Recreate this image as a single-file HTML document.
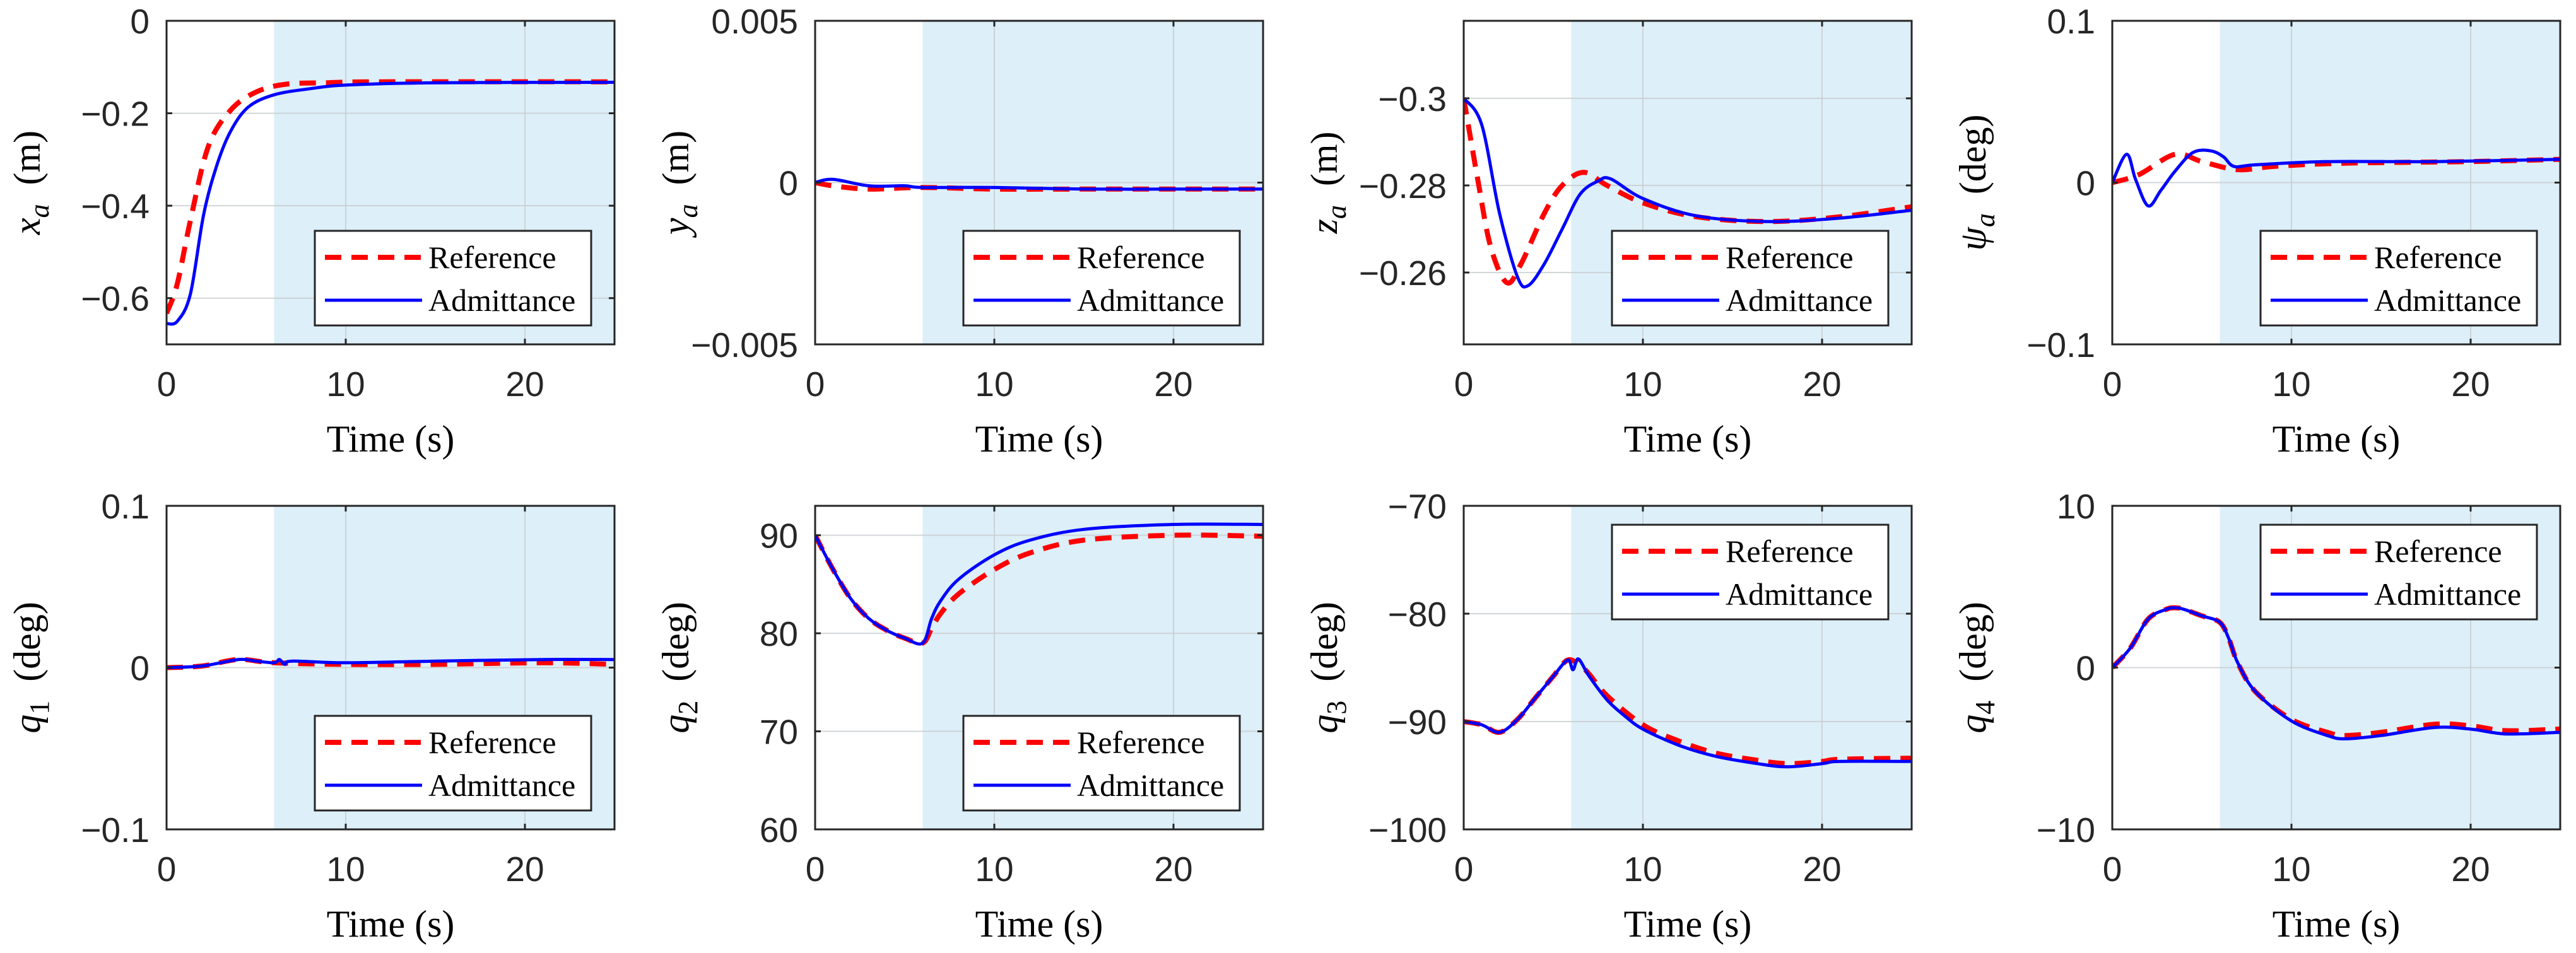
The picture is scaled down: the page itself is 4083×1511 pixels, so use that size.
<!DOCTYPE html>
<html><head><meta charset="utf-8"><style>
html,body{margin:0;padding:0;background:#fff;}
svg{display:block;}
.tick{font-family:"Liberation Sans",Arial,sans-serif;font-size:55px;fill:#262626;}
.lab{font-family:"Liberation Serif","Times New Roman",serif;font-size:60px;fill:#000;}
.leg{font-family:"Liberation Serif","Times New Roman",serif;font-size:50px;fill:#000;}
</style></head><body>
<svg id="fig" width="4083" height="1511" viewBox="0 0 4083 1511" xmlns="http://www.w3.org/2000/svg"></svg>
<script>
// ---- data ----
const xTicks = [0, 10, 20];
const xLim = [0, 25];
const shadeStart = 6;
const legendLabels = ["Reference", "Admittance"];

const xaRefT = [0, 0.59, 1.33, 2.32, 3.56, 5.0, 6.7, 9, 12, 25];
const xaRefV = [-0.633, -0.570, -0.432, -0.273, -0.194, -0.154, -0.137, -0.134, -0.132, -0.132];
const xaAdmT = [0, 0.6, 1.33, 2.07, 2.81, 3.56, 4.55, 6.0, 8.0, 10, 15, 25];
const xaAdmV = [-0.655, -0.650, -0.591, -0.419, -0.312, -0.240, -0.187, -0.160, -0.147, -0.139, -0.134, -0.133];

const yaRefT = [0, 1, 3, 6, 10, 15, 20, 25];
const yaRefV = [0, -0.0001, -0.0002, -0.00015, -0.0002, -0.0002, -0.0002, -0.0002];
const yaAdmT = [0, 1, 3, 5, 6, 10, 15, 20, 25];
const yaAdmV = [0, 0.0001, -0.0001, -0.0001, -0.00015, -0.00015, -0.0002, -0.0002, -0.0002];

const zaRefT = [0, 0.8, 1.5, 2.4, 3.2, 4.5, 5.5, 6.7, 8, 10, 13, 17, 21, 25];
const zaRefV = [-0.300, -0.281, -0.266, -0.2577, -0.262, -0.2736, -0.280, -0.283, -0.280, -0.276, -0.2728, -0.2717, -0.2728, -0.2751];
const zaAdmT = [0, 1, 2, 3, 3.6, 4.5, 5.5, 6.5, 7.5, 8.2, 10, 13, 17, 21, 25];
const zaAdmV = [-0.300, -0.294, -0.2736, -0.259, -0.257, -0.262, -0.270, -0.278, -0.281, -0.2815, -0.277, -0.273, -0.2717, -0.2725, -0.2743];

const psiRefT = [0, 1.5, 3.5, 5, 7, 9, 13, 20, 25];
const psiRefV = [0, 0.005, 0.0175, 0.013, 0.008, 0.010, 0.012, 0.013, 0.0144];
const psiAdmT = [0, 0.8, 1.3, 2, 2.7, 3.5, 4.5, 5.5, 6.2, 6.8, 8, 12, 18, 25];
const psiAdmV = [0, 0.0175, 0.002, -0.0144, -0.005, 0.007, 0.0186, 0.0196, 0.016, 0.010, 0.011, 0.013, 0.013, 0.0144];

const q1RefT = [0, 2, 4, 6, 10, 15, 21, 25];
const q1RefV = [0, 0.001, 0.005, 0.003, 0.002, 0.002, 0.003, 0.002];
const q1AdmT = [0, 2, 4, 5, 6, 6.3, 6.6, 7, 10, 15, 21, 25];
const q1AdmV = [0, 0.001, 0.005, 0.004, 0.003, 0.005, 0.002, 0.004, 0.003, 0.004, 0.005, 0.005];

const q2RefT = [0, 1, 2, 3, 4, 5, 6, 6.5, 7, 8, 10, 12, 15, 20, 25];
const q2RefV = [90, 86.5, 83.5, 81.5, 80.3, 79.5, 79, 80.5, 82, 84, 86.5, 88.2, 89.5, 90, 89.9];
const q2AdmT = [0, 1, 2, 3, 4, 5, 6, 6.5, 7, 8, 10, 12, 15, 20, 25];
const q2AdmV = [90, 86.5, 83.5, 81.5, 80.3, 79.5, 79, 81.5, 83.3, 85.5, 88, 89.5, 90.6, 91.1, 91.1];

const q3RefT = [0, 1, 2, 3, 4, 5, 5.8, 6.5, 7, 8, 10, 12, 14, 16, 18, 20, 21, 25];
const q3RefV = [-90, -90.3, -91, -89.8, -87.8, -85.8, -84.3, -84.8, -85.6, -87.6, -90.3, -91.8, -92.9, -93.5, -93.9, -93.7, -93.5, -93.4];
const q3AdmT = [0, 1, 2, 3, 4, 5, 5.8, 6.1, 6.4, 7, 8, 9, 10, 12, 14, 16, 18, 20, 21, 25];
const q3AdmV = [-90, -90.3, -91, -89.8, -87.8, -85.8, -84.3, -85.2, -84.2, -85.8, -88, -89.5, -90.7, -92.2, -93.2, -93.8, -94.2, -93.9, -93.7, -93.7];

const q4RefT = [0, 1, 2, 3, 3.5, 4, 5, 6, 6.5, 7, 8, 10, 12, 13, 15, 18, 20, 22, 25];
const q4RefV = [0, 1.2, 3, 3.6, 3.7, 3.6, 3.2, 2.8, 1.8, 0.3, -1.5, -3.2, -4.0, -4.2, -4.0, -3.5, -3.6, -3.9, -3.8];
const q4AdmT = [0, 1, 2, 3, 3.5, 4, 5, 6, 6.5, 7, 8, 10, 12, 13, 15, 18, 20, 22, 25];
const q4AdmV = [0, 1.2, 3, 3.6, 3.7, 3.6, 3.2, 2.8, 1.8, 0.3, -1.5, -3.3, -4.2, -4.4, -4.2, -3.7, -3.8, -4.1, -4.0];

const panels = [
 {name:"xa", sym:"x", sub:"a", unit:"(m)", yLim:[-0.7,0], yTicks:[0,-0.2,-0.4,-0.6], tickLabels:["0","\u22120.2","\u22120.4","\u22120.6"], rev:false, leg:"bottom", ref:[xaRefT,xaRefV], adm:[xaAdmT,xaAdmV]},
 {name:"ya", sym:"y", sub:"a", unit:"(m)", yLim:[-0.005,0.005], yTicks:[0.005,0,-0.005], tickLabels:["0.005","0","\u22120.005"], rev:false, leg:"bottom", ref:[yaRefT,yaRefV], adm:[yaAdmT,yaAdmV]},
 {name:"za", sym:"z", sub:"a", unit:"(m)", yLim:[-0.3178,-0.2435], yTicks:[-0.3,-0.28,-0.26], tickLabels:["\u22120.3","\u22120.28","\u22120.26"], rev:true, leg:"bottom", ref:[zaRefT,zaRefV], adm:[zaAdmT,zaAdmV]},
 {name:"psi", sym:"\u03c8", sub:"a", unit:"(deg)", yLim:[-0.1,0.1], yTicks:[0.1,0,-0.1], tickLabels:["0.1","0","\u22120.1"], rev:false, leg:"bottom", ref:[psiRefT,psiRefV], adm:[psiAdmT,psiAdmV]},
 {name:"q1", sym:"q", sub:"1", unit:"(deg)", yLim:[-0.1,0.1], yTicks:[0.1,0,-0.1], tickLabels:["0.1","0","\u22120.1"], rev:false, leg:"bottom", ref:[q1RefT,q1RefV], adm:[q1AdmT,q1AdmV]},
 {name:"q2", sym:"q", sub:"2", unit:"(deg)", yLim:[60,93], yTicks:[90,80,70,60], tickLabels:["90","80","70","60"], rev:false, leg:"bottom", ref:[q2RefT,q2RefV], adm:[q2AdmT,q2AdmV]},
 {name:"q3", sym:"q", sub:"3", unit:"(deg)", yLim:[-100,-70], yTicks:[-70,-80,-90,-100], tickLabels:["\u221270","\u221280","\u221290","\u2212100"], rev:false, leg:"top", ref:[q3RefT,q3RefV], adm:[q3AdmT,q3AdmV]},
 {name:"q4", sym:"q", sub:"4", unit:"(deg)", yLim:[-10,10], yTicks:[10,0,-10], tickLabels:["10","0","\u221210"], rev:false, leg:"top", ref:[q4RefT,q4RefV], adm:[q4AdmT,q4AdmV]}
];

// ---- drawing ----
const NS = "http://www.w3.org/2000/svg";
const svg = document.getElementById("fig");
function mk(tag, attrs, parent){
  const e = document.createElementNS(NS, tag);
  for (const k in attrs) e.setAttribute(k, attrs[k]);
  (parent||svg).appendChild(e);
  return e;
}
function smoothPath(pts){
  let d = "M" + pts[0][0].toFixed(1) + "," + pts[0][1].toFixed(1);
  for (let i=0;i<pts.length-1;i++){
    const p0 = pts[i-1]||pts[i], p1=pts[i], p2=pts[i+1], p3=pts[i+2]||pts[i+1];
    const c1x = p1[0]+(p2[0]-p0[0])/6, c1y = p1[1]+(p2[1]-p0[1])/6;
    const c2x = p2[0]-(p3[0]-p1[0])/6, c2y = p2[1]-(p3[1]-p1[1])/6;
    d += " C"+c1x.toFixed(1)+","+c1y.toFixed(1)+" "+c2x.toFixed(1)+","+c2y.toFixed(1)+" "+p2[0].toFixed(1)+","+p2[1].toFixed(1);
  }
  return d;
}
const W = 710, H = 513;
panels.forEach((p, idx) => {
  const col = idx % 4, row = Math.floor(idx/4);
  const L = 264 + col*1028, T = 33 + row*769;
  const g = mk("g", {});
  
  
  const xs = t => L + (t - xLim[0])/(xLim[1]-xLim[0])*W;
  const ys = v => p.rev ? T + (v - p.yLim[0])/(p.yLim[1]-p.yLim[0])*H
                        : T + H - (v - p.yLim[0])/(p.yLim[1]-p.yLim[0])*H;
  const clipId = "clip" + idx;
  const cp = mk("clipPath", {id: clipId}, g);
  mk("rect", {x:L, y:T, width:W, height:H}, cp);
  const sh = mk("rect", {x:xs(shadeStart), y:T, width:xs(xLim[1])-xs(shadeStart), height:H, fill:"#ddeff8"}, g);
  
  
  // grid
  xTicks.forEach(t => { if (t>xLim[0]) mk("line", {x1:xs(t), x2:xs(t), y1:T, y2:T+H, stroke:"#c8ccd0", "stroke-width":2, "stroke-opacity":0.8}, g); });
  p.yTicks.forEach(v => mk("line", {x1:L, x2:L+W, y1:ys(v), y2:ys(v), stroke:"#c8ccd0", "stroke-width":2, "stroke-opacity":0.8}, g));
  // series
  const cg = mk("g", {"clip-path":"url(#"+clipId+")"}, g);
  const refPts = p.ref[0].map((t,i)=>[xs(t), ys(p.ref[1][i])]);
  const admPts = p.adm[0].map((t,i)=>[xs(t), ys(p.adm[1][i])]);
  const rl = mk("path", {d:smoothPath(refPts), fill:"none", stroke:"#ff0000", "stroke-width":8, "stroke-dasharray":"26 16"}, cg);
  
  
  const al = mk("path", {d:smoothPath(admPts), fill:"none", stroke:"#0000ff", "stroke-width":5}, cg);
  
  
  // axes box
  const box = mk("rect", {x:L, y:T, width:W, height:H, fill:"none", stroke:"#262626", "stroke-width":3}, g);
  
  
  // ticks
  xTicks.forEach(t => {
    mk("line", {x1:xs(t), x2:xs(t), y1:T+H, y2:T+H-9, stroke:"#262626", "stroke-width":3}, g);
    mk("line", {x1:xs(t), x2:xs(t), y1:T, y2:T+9, stroke:"#262626", "stroke-width":3}, g);
    const tx = mk("text", {x:xs(t), y:T+H+82, "text-anchor":"middle", class:"tick"}, g);
    tx.textContent = String(t);
    
    
  });
  p.yTicks.forEach((v,i) => {
    mk("line", {x1:L, x2:L+9, y1:ys(v), y2:ys(v), stroke:"#262626", "stroke-width":3}, g);
    mk("line", {x1:L+W, x2:L+W-9, y1:ys(v), y2:ys(v), stroke:"#262626", "stroke-width":3}, g);
    const ty = mk("text", {x:L-27, y:ys(v)+20, "text-anchor":"end", class:"tick"}, g);
    ty.textContent = p.tickLabels[i];
    
    
  });
  // x label
  const xl = mk("text", {x:L+W/2, y:T+H+170, "text-anchor":"middle", class:"lab"}, g);
  xl.textContent = "Time (s)";
  
  
  // y label
  const cx = L-201, cy = T+H/2;
  const yl = mk("text", {x:cx, y:cy, "text-anchor":"middle", class:"lab", transform:"rotate(-90 "+cx+" "+cy+")"}, g);
  
  
  const s1 = mk("tspan", {"font-style":"italic"}, yl); s1.textContent = p.sym;
  const s2 = mk("tspan", {"font-style": /\d/.test(p.sub) ? "normal" : "italic", "font-size":"44px", dy:"14"}, yl); s2.textContent = p.sub;
  const s3 = mk("tspan", {dy:"-14"}, yl); s3.textContent = "\u00a0\u00a0" + p.unit;
  // legend
  const lw = 438, lh = 150;
  const lx = L+W-37-lw, ly = p.leg === "top" ? T+30 : T+H-30-lh;
  const lg = mk("g", {}, g);
  
  
  mk("rect", {x:lx, y:ly, width:lw, height:lh, fill:"#fff", stroke:"#262626", "stroke-width":3}, lg);
  [["#ff0000",8,"26 16",42],["#0000ff",5,"none",110]].forEach((s,i)=>{
    const ln = mk("line", {x1:lx+16, x2:lx+170, y1:ly+s[3], y2:ly+s[3], stroke:s[0], "stroke-width":s[1], "stroke-dasharray":s[2]}, lg);
    
    
    const lt = mk("text", {x:lx+180, y:ly+s[3]+17, class:"leg"}, lg);
    lt.textContent = legendLabels[i];
    
    
  });
});
</script>
</body></html>
